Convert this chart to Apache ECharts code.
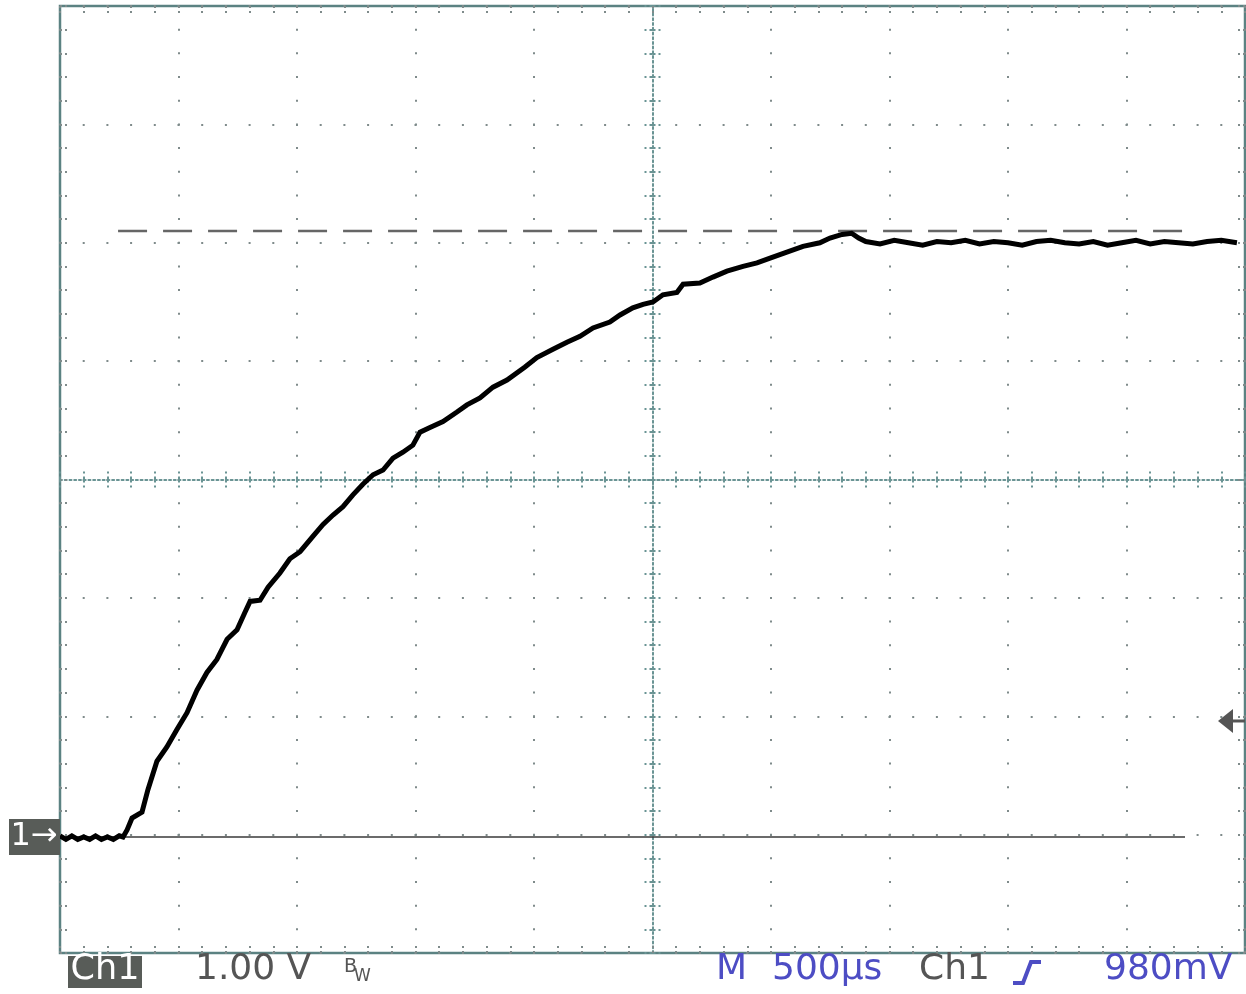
<!DOCTYPE html>
<html><head><meta charset="utf-8">
<script src="https://cdn.jsdelivr.net/npm/echarts@6/dist/echarts.min.js"></script>
<style>html,body{margin:0;padding:0;background:#fff}#c{width:1246px;height:994px}</style>
</head><body><div id="c"></div>
<script>
// ---- data (time in µs, voltage in V) ----
const timeUs = [0, 25, 50, 75, 100, 125, 150, 175, 200, 225, 250, 266, 283, 304, 346, 371, 409, 451, 494, 536,
  578, 620, 662, 705, 747, 781, 802, 844, 878, 928, 970, 1013, 1067, 1110, 1152, 1194, 1236, 1278, 1321, 1363,
  1405, 1447, 1489, 1519, 1561, 1616, 1675, 1717, 1772, 1827, 1886, 1962, 2012, 2080, 2139, 2194, 2249, 2320,
  2363, 2417, 2460, 2502, 2544, 2603, 2629, 2700, 2755, 2814, 2882, 2941, 2996, 3067, 3135, 3206, 3249, 3300,
  3340, 3370, 3400, 3460, 3520, 3580, 3640, 3700, 3760, 3820, 3880, 3940, 4000, 4060, 4120, 4180, 4240, 4300,
  4360, 4420, 4480, 4540, 4600, 4660, 4720, 4780, 4840, 4900, 4966];
const volts = [-0.01, -0.04, -0.01, -0.04, -0.02, -0.04, -0.01, -0.04, -0.02, -0.04, -0.01, -0.02, 0.04, 0.14, 0.19, 0.38, 0.62, 0.74, 0.89, 1.03,
  1.22, 1.37, 1.48, 1.65, 1.73, 1.88, 1.97, 1.98, 2.09, 2.21, 2.33, 2.39, 2.52, 2.62, 2.70, 2.77, 2.87, 2.96, 3.04, 3.08,
  3.18, 3.23, 3.29, 3.40, 3.44, 3.49, 3.57, 3.63, 3.69, 3.78, 3.84, 3.95, 4.03, 4.10, 4.16, 4.21, 4.28, 4.33,
  4.39, 4.45, 4.48, 4.50, 4.56, 4.58, 4.65, 4.66, 4.71, 4.76, 4.80, 4.83, 4.87, 4.92, 4.97, 5.00, 5.04, 5.07,
  5.08, 5.04, 5.01, 4.99, 5.02, 5.00, 4.98, 5.01, 5.00, 5.02, 4.99, 5.01, 5.00, 4.98, 5.01, 5.02, 5.00, 4.99,
  5.01, 4.98, 5.00, 5.02, 4.99, 5.01, 5.00, 4.99, 5.01, 5.02, 5.00];
const refLevelV = 5.10, refStartUs = 245, refEndUs = 4768;   // dashed reference line
const groundV = -0.02, groundEndUs = 4747;                 // ground reference
const triggerV = 0.98;                                     // trigger level (980 mV)
const X_MIN = 0, X_MAX = 5000, X_DIV = 500;                // 500 µs / div
const Y_MIN = -1, Y_MAX = 7, Y_DIV = 1;                    // 1.00 V / div
const SUB = 5;                                             // minor marks per division
const labelCh = 'Ch1', labelScale = '1.00 V', labelTime = '500µs', labelTrig = '980mV';

const GRID = {left: 60, top: 6, width: 1185, height: 947};
const dotColor = '#7f8b8b', centerColor = '#6a9494';
const yMinorPx = GRID.height / ((Y_MAX - Y_MIN) / Y_DIV * SUB);
const xMinorPx = GRID.width / ((X_MAX - X_MIN) / X_DIV * SUB);

function tickStyle(len, inside, color, type) {
  return {show: true, inside: inside, length: len, lineStyle: {color: color, width: 2, type: type}};
}
function noLine(extra) {
  return Object.assign({show: false, onZero: false}, extra || {});
}
function xAx(extra, interval) {
  return Object.assign({type: 'value', min: X_MIN, max: X_MAX, interval: interval || X_DIV,
    axisLabel: {show: false}, splitLine: {show: false}, axisLine: noLine(), axisTick: {show: false}}, extra);
}
function yAx(extra, interval) {
  return Object.assign({type: 'value', min: Y_MIN, max: Y_MAX, interval: interval || Y_DIV,
    axisLabel: {show: false}, splitLine: {show: false}, axisLine: noLine(), axisTick: {show: false}}, extra);
}
const xMinor = X_DIV / SUB, yMinor = Y_DIV / SUB;
const frameTick = tickStyle(8, true, dotColor, [2, 3]);
const ctrIn = tickStyle(8, true, centerColor, [3, 3]);
const ctrOut = tickStyle(8, false, centerColor, [3, 3]);

const chart = echarts.init(document.getElementById('c'), null, {renderer: 'canvas'});
chart.setOption({
  animation: false,
  backgroundColor: '#ffffff',
  grid: Object.assign({show: true, borderColor: '#5b8282', borderWidth: 2.5, backgroundColor: 'transparent'}, GRID),
  xAxis: [
    xAx({position: 'bottom',
      splitLine: {show: true, lineStyle: {color: dotColor, width: 2, type: [2, yMinorPx - 2], dashOffset: 1}}}),
    xAx({position: 'bottom', axisTick: frameTick}, xMinor),
    xAx({position: 'top', axisTick: frameTick}, xMinor),
    xAx({position: 'bottom', offset: -GRID.height / 2,
      axisLine: noLine({show: true, lineStyle: {color: centerColor, width: 2, type: [2, xMinorPx / 5 - 2]}}),
      axisTick: ctrIn}, xMinor),
    xAx({position: 'bottom', offset: -GRID.height / 2, axisTick: ctrOut}, xMinor)
  ],
  yAxis: [
    yAx({position: 'left',
      splitLine: {show: true, lineStyle: {color: dotColor, width: 2, type: [2, xMinorPx - 2], dashOffset: 1}}}),
    yAx({position: 'left', axisTick: frameTick}, yMinor),
    yAx({position: 'right', axisTick: frameTick}, yMinor),
    yAx({position: 'left', offset: -GRID.width / 2,
      axisLine: noLine({show: true, lineStyle: {color: centerColor, width: 2, type: [2, yMinorPx / 5 - 2]}}),
      axisTick: ctrIn}, yMinor),
    yAx({position: 'left', offset: -GRID.width / 2, axisTick: ctrOut}, yMinor)
  ],
  series: [
    {type: 'line', name: 'ground', xAxisIndex: 0, yAxisIndex: 0, symbol: 'none', z: 3,
      data: [[X_MIN, groundV], [groundEndUs, groundV]],
      lineStyle: {color: '#3a3a3a', width: 1.5}},
    {type: 'line', name: 'reference', xAxisIndex: 0, yAxisIndex: 0, symbol: 'none', z: 3,
      data: [[refStartUs, refLevelV], [refEndUs, refLevelV]],
      lineStyle: {color: '#666666', width: 2.5, type: [29, 16]}},
    {type: 'line', name: 'Ch1', xAxisIndex: 0, yAxisIndex: 0, symbol: 'none', z: 5,
      data: timeUs.map((t, i) => [t, volts[i]]),
      lineStyle: {color: '#000000', width: 5, join: 'miter'}}
  ]
});

const gy = chart.convertToPixel({gridIndex: 0}, [0, groundV])[1];
const ty = chart.convertToPixel({gridIndex: 0}, [0, groundV + triggerV])[1];
const right = GRID.left + GRID.width;
const font = (s) => s + 'px "DejaVu Sans", sans-serif';
const gray = '#555555', blue = '#4d4dc4', boxFill = '#585c58';
const textY = 970;
chart.setOption({
  graphic: [
    // ground marker
    {type: 'rect', shape: {x: 9, y: gy - 18, width: 51, height: 36}, style: {fill: boxFill}, z: 10},
    {type: 'text', style: {text: '1→', x: 34, y: gy, font: font(32), fill: '#ffffff', textAlign: 'center', textVerticalAlign: 'middle'}, z: 11},
    // trigger level arrow
    {type: 'polygon', shape: {points: [[right - 27, ty], [right - 12, ty - 12], [right - 12, ty + 12]]}, style: {fill: gray}, z: 10},
    {type: 'rect', shape: {x: right - 13, y: ty - 1.5, width: 13, height: 3}, style: {fill: gray}, z: 10},
    // bottom readouts
    {type: 'rect', shape: {x: 68, y: 956, width: 74, height: 32}, style: {fill: boxFill}, z: 10},
    {type: 'text', style: {text: labelCh, x: 105, y: textY, font: font(35), fill: '#ffffff', textAlign: 'center', textVerticalAlign: 'middle'}, z: 11},
    {type: 'text', style: {text: labelScale, x: 195, y: textY, font: font(36), fill: gray, textAlign: 'left', textVerticalAlign: 'middle'}, z: 11},
    {type: 'text', style: {text: 'B', x: 344, y: 967, font: font(19), fill: gray, textAlign: 'left', textVerticalAlign: 'middle'}, z: 11},
    {type: 'text', style: {text: 'W', x: 354, y: 977, font: font(17), fill: gray, textAlign: 'left', textVerticalAlign: 'middle'}, z: 11},
    {type: 'text', style: {text: 'M', x: 716, y: textY, font: font(36), fill: blue, textAlign: 'left', textVerticalAlign: 'middle'}, z: 11},
    {type: 'text', style: {text: labelTime, x: 772, y: textY, font: font(36), fill: blue, textAlign: 'left', textVerticalAlign: 'middle'}, z: 11},
    {type: 'text', style: {text: labelCh, x: 919, y: textY, font: font(36), fill: gray, textAlign: 'left', textVerticalAlign: 'middle'}, z: 11},
    {type: 'polyline', shape: {points: [[1013, 983], [1023, 983], [1031, 962], [1041, 962]]}, style: {stroke: blue, lineWidth: 4, fill: null}, z: 11},
    {type: 'text', style: {text: labelTrig, x: 1104, y: textY, font: font(36), fill: blue, textAlign: 'left', textVerticalAlign: 'middle'}, z: 11}
  ]
});
</script>
</body></html>
